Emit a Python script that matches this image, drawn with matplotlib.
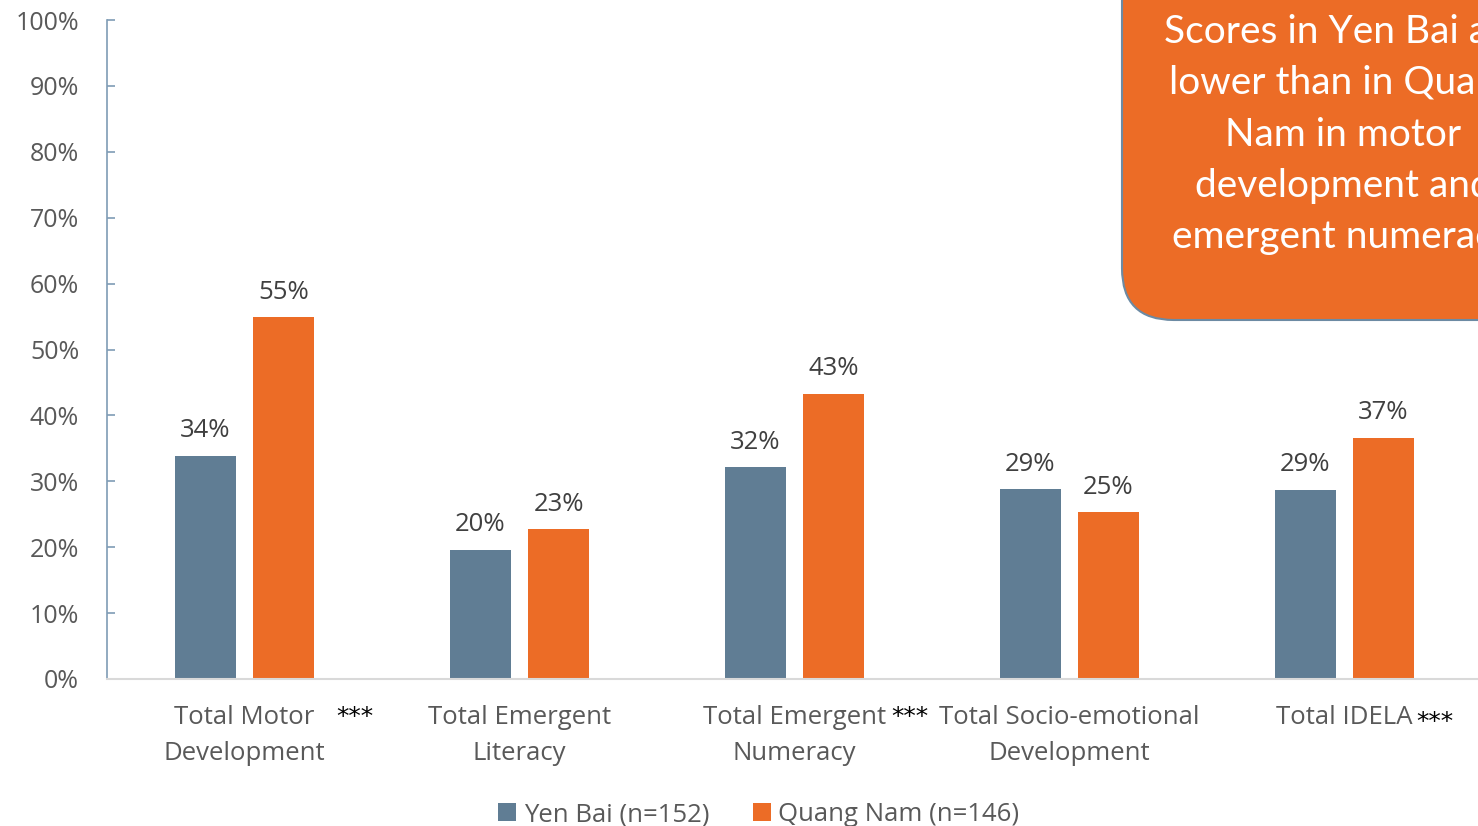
import matplotlib.pyplot as plt
from matplotlib.patches import FancyBboxPatch
import numpy as np

# IDELA domain scores by province
categories = ["Total Motor\nDevelopment", "Total Emergent\nLiteracy", "Total Emergent\nNumeracy",
              "Total Socio-emotional\nDevelopment", "Total IDELA"]
yen_bai = [33.9, 19.6, 32.1, 28.8, 28.7]
quang_nam = [54.9, 22.7, 43.3, 25.3, 36.6]
significant = [True, False, True, False, True]
series_names = ["Yen Bai (n=152)", "Quang Nam (n=146)"]
callout = "Scores in Yen Bai are\nlower than in Quang\nNam in motor\ndevelopment and\nemergent numeracy"

c_yb = "#607d94"
c_qn = "#ec6c26"
grey = "#595959"
plt.rcParams['font.family'] = ['Open Sans', 'DejaVu Sans']

fig = plt.figure(figsize=(14.78, 8.26), dpi=100)
ax = fig.add_axes([107 / 1478, 147 / 826, 1375 / 1478, 659 / 826])

x = np.arange(len(categories))
w = 0.225
off = 0.142
b1 = ax.bar(x - off, yen_bai, w, color=c_yb, label=series_names[0])
b2 = ax.bar(x + off, quang_nam, w, color=c_qn, label=series_names[1])

for bars, vals in ((b1, yen_bai), (b2, quang_nam)):
    for b, v in zip(bars, vals):
        ax.annotate(f"{v:.0f}%", (b.get_x() + b.get_width() / 2, v), xytext=(0, 9),
                    textcoords="offset points", ha="center", va="bottom",
                    fontsize=18.5, color="#404040")

ax.set_xlim(-0.5, 4.5)
ax.set_ylim(0, 100)
ax.set_yticks(np.arange(0, 101, 10))
ax.set_yticklabels([f"{t}%" for t in range(0, 101, 10)])
ax.set_xticks(x)
ax.set_xticklabels(categories, linespacing=1.55)
ax.tick_params(axis='y', direction='in', length=6, width=1.2, color="#7f9cb5",
               pad=20, labelsize=18, labelcolor=grey)
ax.tick_params(axis='x', length=0, pad=19, labelsize=18.5, labelcolor=grey)

for s in ("top", "right"):
    ax.spines[s].set_visible(False)
ax.spines["left"].set_color("#7f9cb5")
ax.spines["left"].set_linewidth(1.2)
ax.spines["bottom"].set_color("#d9d9d9")
ax.spines["bottom"].set_linewidth(1.5)

# significance markers next to the category labels
star_pos = {0: (0.40, -5.8), 2: (0.42, -5.8), 4: (0.33, -6.6)}
for i, sig in enumerate(significant):
    if sig:
        dx, y = star_pos[i]
        ax.text(i + dx, y, "***", ha="center", va="center", fontsize=18,
                color="black", family="DejaVu Sans", clip_on=False)

ax.legend(loc="center", bbox_to_anchor=(0.474, -0.206), ncol=2, frameon=False,
          fontsize=18.5, handlelength=0.7, handleheight=0.7, handletextpad=0.3,
          columnspacing=1.7, labelcolor=grey)

# callout box in the top-right corner
box = FancyBboxPatch((1122 / 1478, (826 - 320) / 826), 0.5, 0.6,
                     boxstyle="round,pad=0,rounding_size=0.035",
                     transform=fig.transFigure, facecolor=c_qn, edgecolor="#6c8aa3",
                     linewidth=1.5, mutation_aspect=1478 / 826)
fig.patches.append(box)
fig.text(1343 / 1478, (826 - 14) / 826, callout, ha="center", va="top", color="white",
         fontsize=28, family=["Lato", "DejaVu Sans"], linespacing=1.53)

fig.savefig("out.png", dpi=100)
